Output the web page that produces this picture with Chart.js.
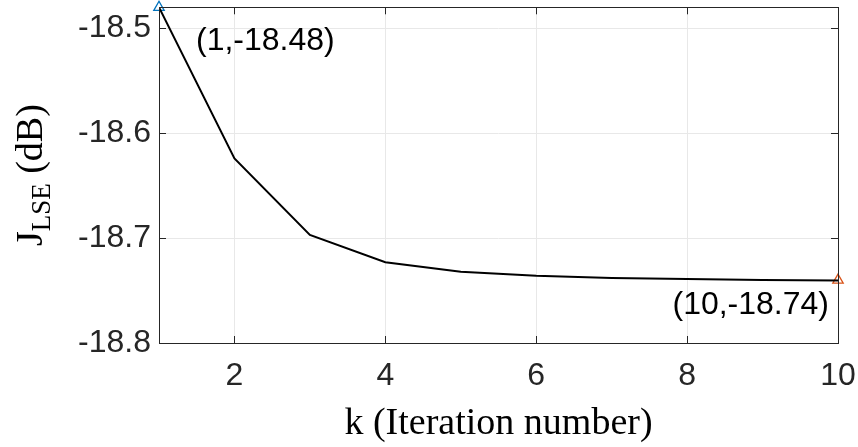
<!DOCTYPE html>
<html>
<head>
<meta charset="utf-8">
<script src="https://cdn.jsdelivr.net/npm/chart.js@4/dist/chart.umd.min.js"></script>
<style>
html,body{margin:0;padding:0;background:#fff;}
#wrap{width:858px;height:447px;position:relative;}
</style>
</head>
<body>
<div id="wrap"><canvas id="c" width="858" height="447"></canvas></div>
<script>
// ---- data ----
const iterations = [1, 2, 3, 4, 5, 6, 7, 8, 9, 10];
const jlse = [-18.48, -18.624, -18.697, -18.723, -18.732, -18.736, -18.738, -18.739, -18.740, -18.7405];
const xTicks = [2, 4, 6, 8, 10];
const yTicks = [-18.8, -18.7, -18.6, -18.5];
const xRange = [1, 10];
const yRange = [-18.8, -18.48];
const startMarker = {x: 1, y: -18.48, label: '(1,-18.48)'};
const endMarker = {x: 10, y: -18.74, label: '(10,-18.74)'};
const xTitle = 'k (Iteration number)';
const yTitleMain = 'J';
const yTitleSub = 'LSE';
const yTitleRest = ' (dB)';

const SANS = '"Liberation Sans", Arial, Helvetica, sans-serif';
const SERIF = '"Liberation Serif", "Times New Roman", serif';
const AXIS = '#262626';

const boxPlugin = {
  id: 'boxPlugin',
  afterDraw(chart) {
    const {ctx, chartArea: a, scales: {x, y}} = chart;
    ctx.save();
    ctx.strokeStyle = AXIS;
    ctx.lineWidth = 1;
    ctx.strokeRect(Math.round(a.left) + 0.5, Math.round(a.top) + 0.5,
                   Math.round(a.right - a.left), Math.round(a.bottom - a.top));
    const tl = 7;
    ctx.beginPath();
    xTicks.forEach(v => {
      const px = Math.round(x.getPixelForValue(v)) + 0.5;
      ctx.moveTo(px, a.bottom); ctx.lineTo(px, a.bottom - tl);
      ctx.moveTo(px, a.top); ctx.lineTo(px, a.top + tl);
    });
    yTicks.forEach(v => {
      const py = Math.round(y.getPixelForValue(v)) + 0.5;
      ctx.moveTo(a.left, py); ctx.lineTo(a.left + tl, py);
      ctx.moveTo(a.right, py); ctx.lineTo(a.right - tl, py);
    });
    ctx.stroke();

    // annotations
    ctx.fillStyle = '#000';
    ctx.font = '32px ' + SANS;
    ctx.textBaseline = 'middle';
    const p1x = x.getPixelForValue(startMarker.x), p1y = y.getPixelForValue(startMarker.y);
    ctx.textAlign = 'left';
    ctx.fillText(startMarker.label, p1x + 37, p1y + 34);
    const p2x = x.getPixelForValue(endMarker.x), p2y = y.getPixelForValue(endMarker.y);
    ctx.textAlign = 'right';
    ctx.fillText(endMarker.label, p2x - 9, p2y + 25);

    // y title with subscript
    const big = '38px ' + SERIF, small = '27px ' + SERIF;
    ctx.font = big; const wJ = ctx.measureText(yTitleMain).width;
    const wR = ctx.measureText(yTitleRest).width;
    ctx.font = small; const wS = ctx.measureText(yTitleSub).width;
    const total = wJ + wS + wR;
    const cy = (a.top + a.bottom) / 2;
    ctx.translate(42, cy);
    ctx.rotate(-Math.PI / 2);
    ctx.textAlign = 'left';
    ctx.textBaseline = 'alphabetic';
    ctx.fillStyle = '#000';
    let xx = -total / 2;
    ctx.font = big; ctx.fillText(yTitleMain, xx, 0); xx += wJ;
    ctx.font = small; ctx.fillText(yTitleSub, xx, 8); xx += wS;
    ctx.font = big; ctx.fillText(yTitleRest, xx, 0);
    ctx.restore();
  }
};

new Chart(document.getElementById('c'), {
  type: 'line',
  data: {
    datasets: [
      {
        data: iterations.map((k, i) => ({x: k, y: jlse[i]})),
        borderColor: '#000',
        borderWidth: 2,
        pointRadius: 0,
        fill: false,
        tension: 0
      },
      {
        data: [{x: startMarker.x, y: startMarker.y}],
        showLine: false,
        pointStyle: 'triangle',
        pointRadius: 6,
        pointBorderWidth: 1.3,
        pointBorderColor: '#0072BD',
        pointBackgroundColor: 'rgba(0,0,0,0)',
        clip: false
      },
      {
        data: [{x: endMarker.x, y: endMarker.y}],
        showLine: false,
        pointStyle: 'triangle',
        pointRadius: 6,
        pointBorderWidth: 1.3,
        pointBorderColor: '#D95319',
        pointBackgroundColor: 'rgba(0,0,0,0)',
        clip: false
      }
    ]
  },
  options: {
    responsive: false,
    animation: false,
    events: [],
    layout: {padding: {left: 0, top: 5, right: 20, bottom: 0}},
    plugins: {legend: {display: false}, tooltip: {enabled: false}},
    scales: {
      x: {
        type: 'linear',
        min: xRange[0], max: xRange[1],
        afterBuildTicks: s => { s.ticks = xTicks.map(v => ({value: v})); },
        afterFit: s => { s.height = 104; s.paddingLeft = 0; s.paddingRight = 0; },
        grid: {color: '#e8e8e8', drawTicks: false, lineWidth: 1},
        border: {display: false},
        ticks: {color: AXIS, font: {family: SANS, size: 32}, padding: 14, maxRotation: 0,
                callback: v => String(v)},
        title: {display: true, text: xTitle, color: '#000',
                font: {family: SERIF, size: 38}, padding: {top: 0, bottom: 0}}
      },
      y: {
        type: 'linear',
        min: yRange[0], max: yRange[1],
        afterBuildTicks: s => { s.ticks = yTicks.map(v => ({value: v})); },
        afterFit: s => { s.width = 159; s.paddingTop = 0; s.paddingBottom = 0; },
        grid: {color: '#e8e8e8', drawTicks: false, lineWidth: 1},
        border: {display: false},
        ticks: {color: AXIS, font: {family: SANS, size: 32}, padding: 8,
                callback: v => v.toFixed(1)}
      }
    }
  },
  plugins: [boxPlugin]
});
</script>
</body>
</html>
